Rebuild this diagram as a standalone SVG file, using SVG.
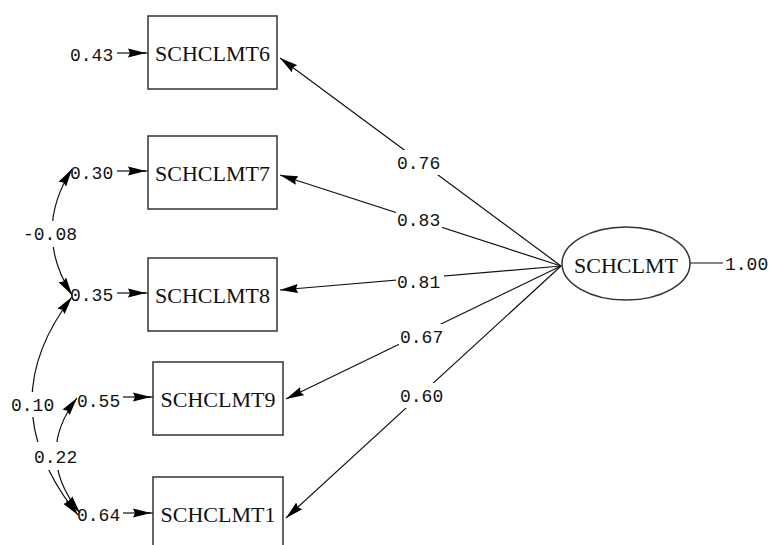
<svg xmlns="http://www.w3.org/2000/svg" width="770" height="545" viewBox="0 0 770 545">
<style>
.box{fill:#fff;stroke:#333;stroke-width:1.5}
.vt{font-family:"Liberation Serif","Times New Roman",serif;font-size:22px;fill:#111;text-anchor:middle}
.num{font-family:"Liberation Mono","Courier New",monospace;font-size:18px;fill:#111}
.bg{fill:#fff;stroke:none}
.ln{fill:none;stroke:#111;stroke-width:1.2}
.arr{marker-end:url(#ah)}
.cov{marker-start:url(#ah);marker-end:url(#ah)}
</style>
<defs>
<marker id="ah" markerUnits="userSpaceOnUse" markerWidth="18" markerHeight="10" viewBox="0 0 18 10" refX="18" refY="5" orient="auto-start-reverse">
<path d="M0,0.5 L18,5 L0,9.5 L2,5 Z" fill="#000"/>
</marker>
</defs>
<rect width="770" height="545" fill="#fff"/>
<g id="connectors">
<line class="ln arr" x1="117" y1="53" x2="146" y2="53"/>
<line class="ln" x1="140" y1="53" x2="148" y2="53"/>
<line class="ln arr" x1="117" y1="171" x2="146" y2="171"/>
<line class="ln" x1="140" y1="171" x2="148" y2="171"/>
<line class="ln arr" x1="117" y1="293" x2="146" y2="293"/>
<line class="ln" x1="140" y1="293" x2="148" y2="293"/>
<line class="ln arr" x1="123" y1="397" x2="151" y2="397"/>
<line class="ln" x1="145" y1="397" x2="153" y2="397"/>
<line class="ln arr" x1="123" y1="513" x2="151" y2="513"/>
<line class="ln" x1="145" y1="513" x2="153" y2="513"/>
<line class="ln arr" x1="561" y1="266" x2="280" y2="58"/>
<line class="ln arr" x1="561" y1="266" x2="280" y2="175"/>
<line class="ln arr" x1="561" y1="266" x2="280" y2="290"/>
<line class="ln arr" x1="561" y1="266" x2="286" y2="399"/>
<line class="ln arr" x1="561" y1="266" x2="286" y2="518"/>
<line class="ln" x1="690" y1="263" x2="723" y2="263"/>
<path class="ln cov" d="M72,169 Q32,232 72,295"/>
<path class="ln cov" d="M72,297 Q-11,405 78,515"/>
<path class="ln cov" d="M77,398 Q33.5,455 80,513"/>
<rect class="bg" x="396" y="150" width="46" height="25"/>
<rect class="bg" x="396" y="207" width="46" height="25"/>
<rect class="bg" x="396" y="269" width="48" height="25"/>
<rect class="bg" x="399" y="324" width="46" height="25"/>
<rect class="bg" x="399" y="383" width="46" height="25"/>
<rect class="bg" x="22" y="221" width="56" height="26"/>
<rect class="bg" x="10" y="392" width="44" height="25"/>
<rect class="bg" x="33" y="442" width="45" height="28"/>
<text class="num" x="397" y="169">0.76</text>
<text class="num" x="397" y="226">0.83</text>
<text class="num" x="397" y="288">0.81</text>
<text class="num" x="400" y="343">0.67</text>
<text class="num" x="400" y="402">0.60</text>
<text class="num" x="725" y="270">1.00</text>
<text class="num" x="23" y="240">-0.08</text>
<text class="num" x="11" y="411">0.10</text>
<text class="num" x="34" y="463">0.22</text>
<text class="num" x="70" y="60.5">0.43</text>
<text class="num" x="70" y="179">0.30</text>
<text class="num" x="70" y="301">0.35</text>
<text class="num" x="77" y="407">0.55</text>
<text class="num" x="77" y="521">0.64</text>
</g>
<g id="SCHCLMT6"><rect class="box" x="148" y="16" width="129" height="73"/><text class="vt" x="212.5" y="61">SCHCLMT6</text></g>
<g id="SCHCLMT7"><rect class="box" x="148" y="136" width="129" height="73"/><text class="vt" x="212.5" y="181">SCHCLMT7</text></g>
<g id="SCHCLMT8"><rect class="box" x="148" y="258" width="129" height="73"/><text class="vt" x="212.5" y="303">SCHCLMT8</text></g>
<g id="SCHCLMT9"><rect class="box" x="153" y="362" width="130" height="73"/><text class="vt" x="218" y="407">SCHCLMT9</text></g>
<g id="SCHCLMT1"><rect class="box" x="153" y="477" width="130" height="73"/><text class="vt" x="218" y="522">SCHCLMT1</text></g>
<g id="SCHCLMT"><ellipse cx="626" cy="263.5" rx="64" ry="36.5" fill="#fff" stroke="#333" stroke-width="1.5"/><text class="vt" x="626" y="273">SCHCLMT</text></g>
</svg>
